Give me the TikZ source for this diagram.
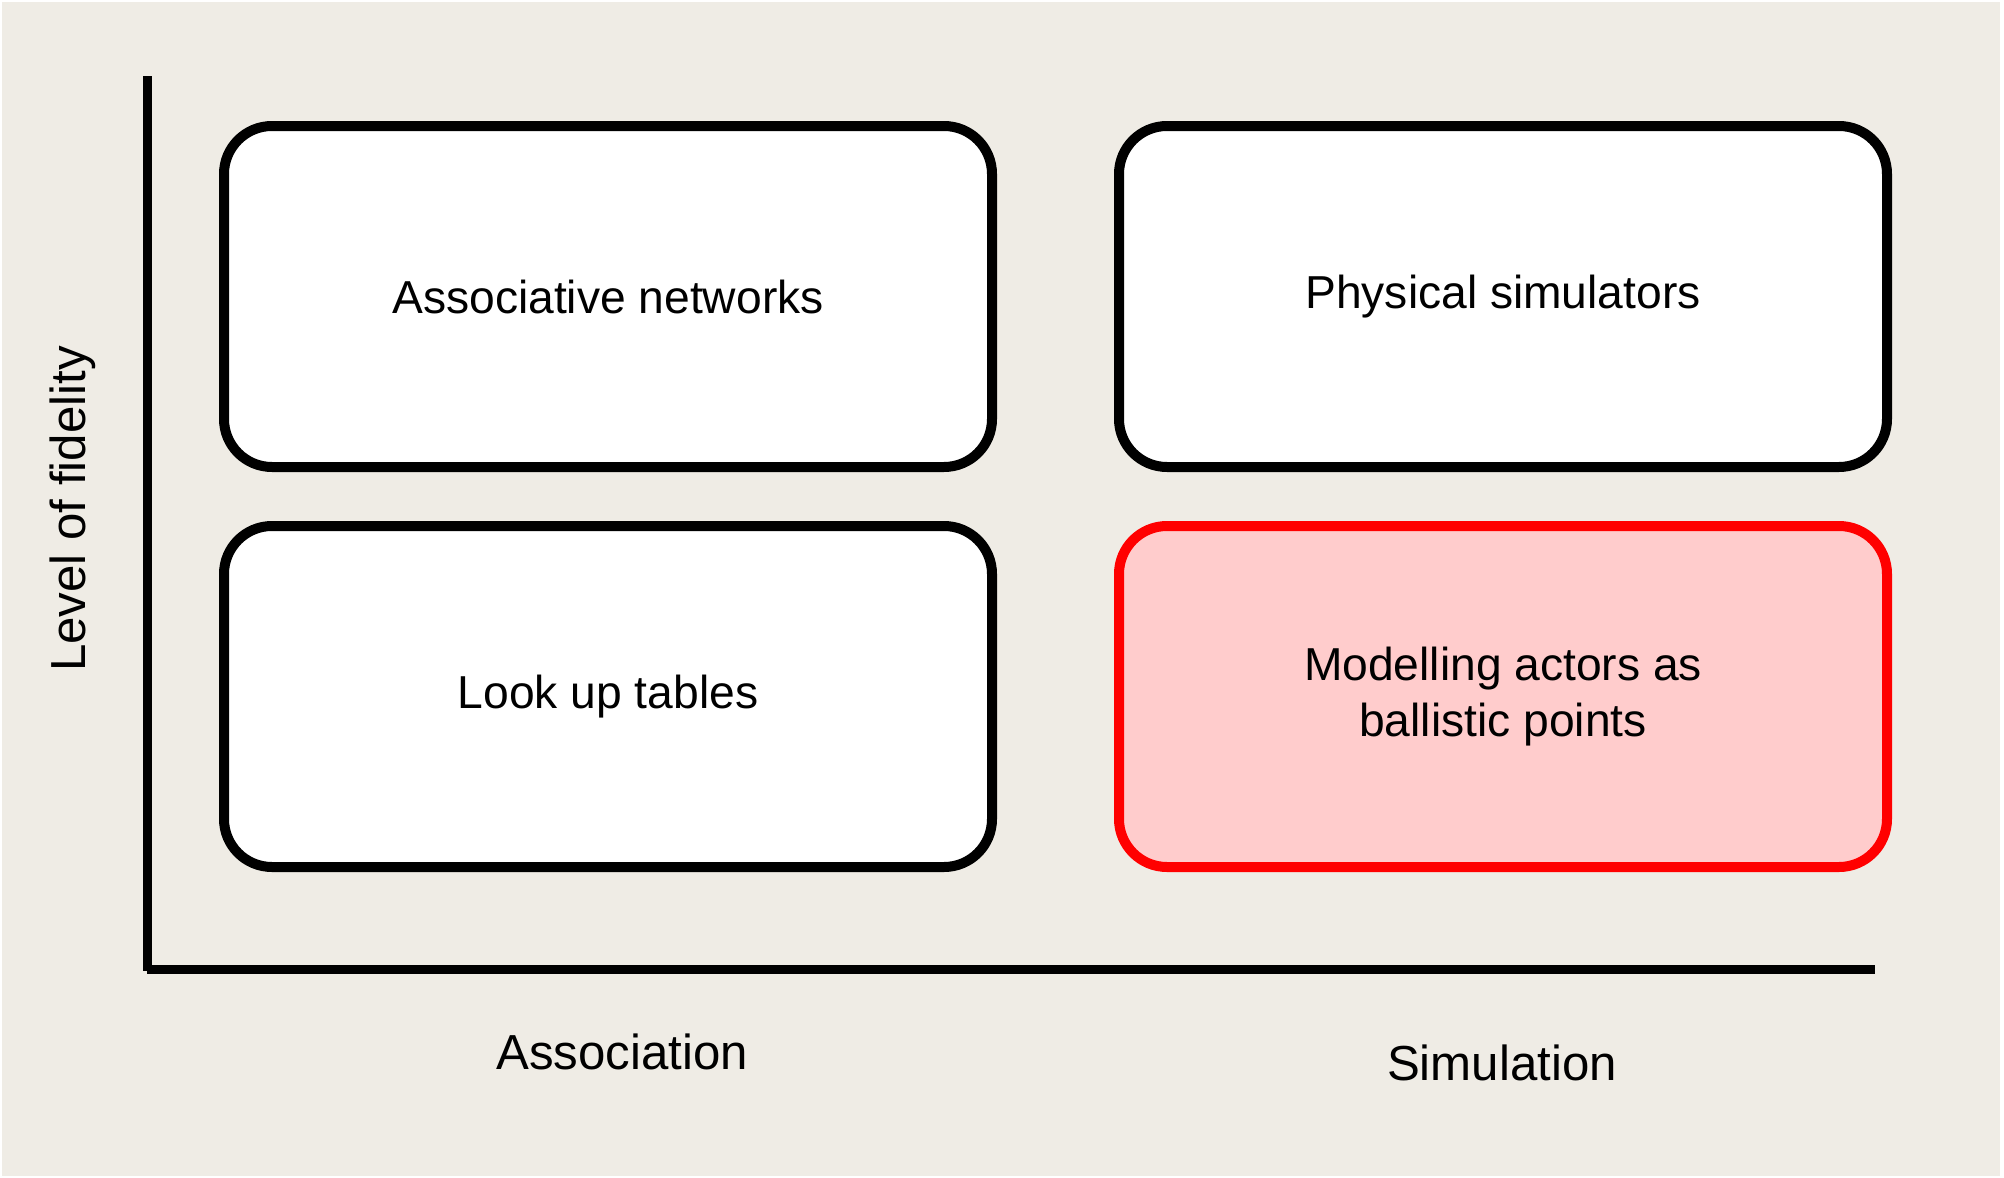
\documentclass[tikz,border=0pt]{standalone}
\usepackage{fontspec}
\setmainfont{Liberation Sans}

\begin{document}
\begin{tikzpicture}[x=0.5pt,y=0.5pt,yscale=-1,xscale=1]
	\tikzset{
		cell/.style={draw, line width=5pt, rounded corners=24pt, fill=white,
			minimum width=384pt, minimum height=170.5pt, inner sep=0pt,
			align=center, font=\fontsize{23.1}{28}\selectfont},
		axislabel/.style={inner sep=0pt, font=\fontsize{24.6}{30}\selectfont}
	}
	\useasboundingbox (0,0) rectangle (2004,1178);
	%Shape: Background
	\fill [color={rgb, 255:red, 239; green, 236; blue, 229 }] (2,2) rectangle (2000,1176);
	
	%Axes
	\coordinate (ytop) at (147,76);
	\coordinate (ybot) at (147,971);
	\coordinate (xleft) at (147,969.5);
	\coordinate (xright) at (1875,969.5);
	\draw [line width=4.5pt] (ytop) -- (ybot);
	\draw [line width=4.5pt] (xleft) -- (xright);
	
	%Shape: Rounded Rect
	\node [cell] (assoc) at (608,296.5) {Associative networks};
	%Shape: Rounded Rect
	\node [cell] (physics) at (1503,296.5) {Physical simulators};
	%Shape: Rounded Rect
	\node [cell] (lookup) at (608,696.5) {Look up tables};
	%Shape: Rounded Rect
	\node [cell, draw={rgb, 255:red, 255; green, 0; blue, 0 }, fill={rgb, 255:red, 255; green, 204; blue, 204 }] (ballistic) at (1503,696.5) {Modelling actors as\\ballistic points};
	
	% Text Node
	\node [axislabel, rotate=90] (fidelity) at (73,509) {Level of fidelity};
	% Text Node
	\node [axislabel] (association) at (622,1052) {Association};
	% Text Node
	\node [axislabel] (simulation) at (1502,1063) {Simulation};
	
\end{tikzpicture}
\end{document}
